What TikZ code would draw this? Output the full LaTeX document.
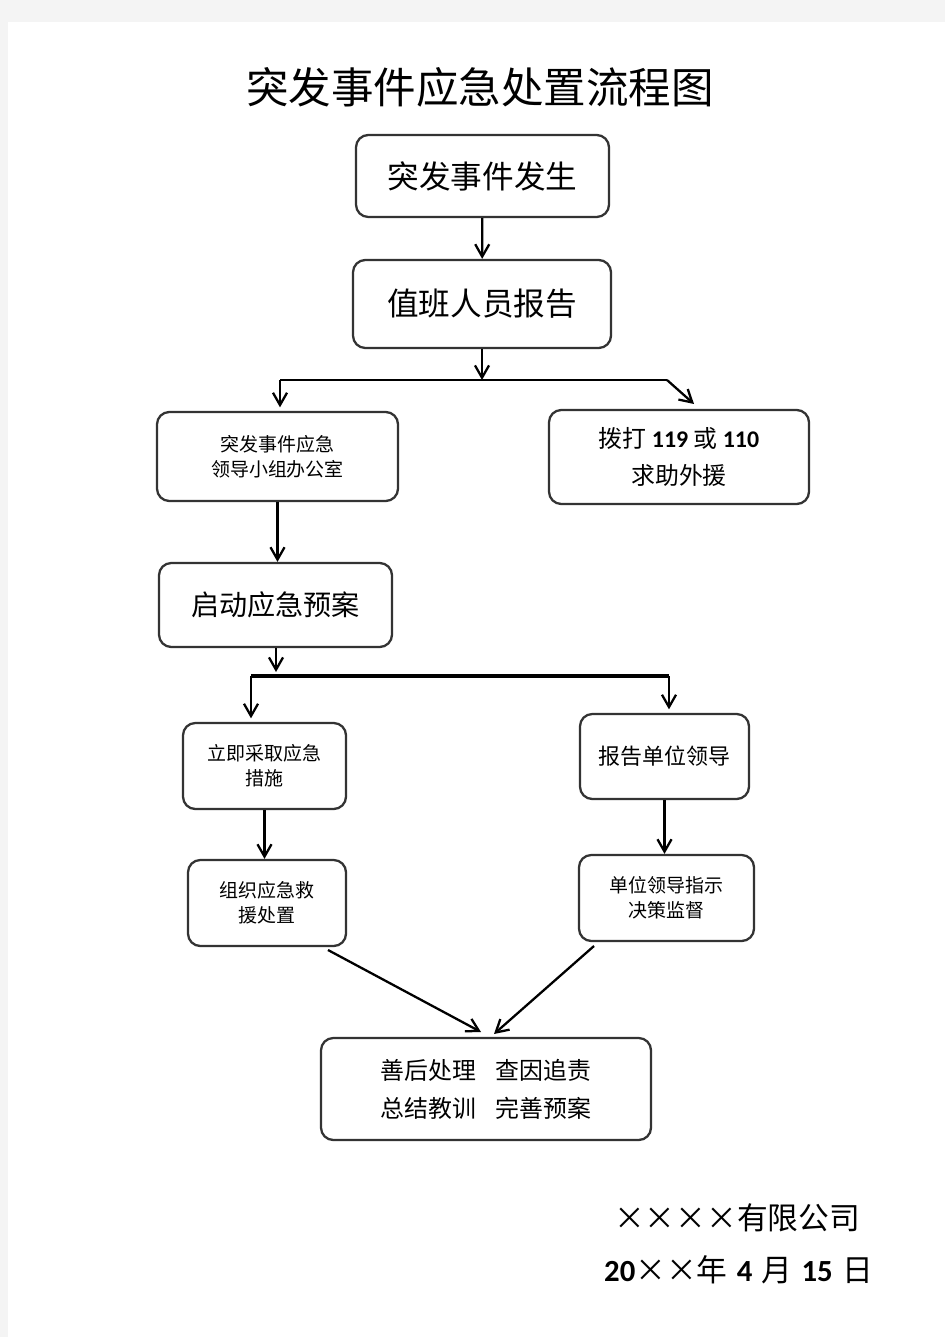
\documentclass[tikz,border=0pt]{standalone}
\usepackage{fontspec}
\setmainfont{Noto Sans CJK SC}
\newfontfamily\numfont{Carlito}
\usetikzlibrary{arrows.meta}
\definecolor{pagegray}{HTML}{F4F4F4}
\definecolor{boxline}{HTML}{333333}
\newcommand{\xx}{\makebox[1em]{×}}
\newcommand{\nb}[1]{{\numfont\bfseries #1}}
\tikzset{
  box/.style 2 args={draw=boxline, line width=1.3pt, rounded corners=7pt,
    align=center, inner sep=0pt,
    minimum width=#1*0.02cm, minimum height=#2*0.02cm},
  big/.style={font=\fontsize{18}{22}\selectfont},
  mid/.style={font=\fontsize{13.6}{21.5}\selectfont},
  small/.style={font=\fontsize{10.8}{14.2}\selectfont},
  flow/.style={line width=1.3pt, -{Straight Barb[length=7pt,width=8pt,line width=1.3pt]}}
}
\begin{document}
\begin{tikzpicture}[x=0.02cm,y=-0.02cm]
  \fill[pagegray] (0,0) rectangle (945,1337);
  \fill[white] (8,22) rectangle (945,1337);
  \useasboundingbox (0,0) rectangle (945,1337);
  % title
  \node[font=\fontsize{24.2}{30}\selectfont] (title) at (480,87) {突发事件应急处置流程图};
  % boxes
  \node[box={253}{82}, big] (occur) at (482.5,176) {突发事件发生};
  \node[box={258}{88}, big] (duty) at (482,304) {值班人员报告};
  \node[box={241}{89}, small] (office) at (277.5,456.5) {突发事件应急\\领导小组办公室};
  \node[box={260}{94}, mid] (call) at (679,457) {拨打 \nb{119} 或 \nb{110}\\求助外援};
  \node[box={233}{84}, font=\fontsize{16}{20}\selectfont] (plan) at (275.5,605) {启动应急预案};
  \node[box={163}{86}, small] (measure) at (264.5,766) {立即采取应急\\措施};
  \node[box={169}{85}, font=\fontsize{12.5}{16}\selectfont] (leader) at (664.5,756.5) {报告单位领导};
  \node[box={158}{86}, small] (rescue) at (267,903) {组织应急救\\援处置};
  \node[box={175}{86}, small] (decide) at (666.5,898) {单位领导指示\\决策监督};
  \node[box={330}{102}, mid] (after) at (486,1089) {善后处理\hspace{0.8em}查因追责\\总结教训\hspace{0.8em}完善预案};
  % signature
  \node[anchor=west, font=\fontsize{17.5}{20}\selectfont] (company) at (608,1218) {\xx\xx\xx\xx 有限公司};
  \node[anchor=west, font=\fontsize{17.5}{20}\selectfont] (date) at (598,1270)
    {\nb{20}\xx\xx 年\hspace{0.3em}\nb{4}\hspace{0.3em}月\hspace{0.3em}\nb{15}\hspace{0.3em}日};
  % branch points
  \coordinate (j1) at (482,380);
  \coordinate (l1) at (280,380);
  \coordinate (r1) at (667,380);
  \coordinate (j2) at (276,672);
  \coordinate (l2) at (251,676);
  \coordinate (r2) at (669,676);
  \coordinate (in1) at (481,1032);
  \coordinate (in2) at (494,1034);
  \begin{scope}[flow]
    \draw (occur) to (duty);
    \draw (duty) to (j1);
    \draw (l1) to ([yshift=2pt]office.north -| l1);
    \draw (r1) to (694,404);
    \draw (office) to (plan.north -| office);
    \draw (plan.south -| j2) to (j2);
    \draw (l2) to ([yshift=2pt]measure.north -| l2);
    \draw (r2) to ([yshift=2pt]leader.north -| r2);
    \draw (measure.south) to (rescue.north -| measure.south);
    \draw (leader.south) to (leader.south |- decide.north);
    \draw (328,950) to (in1);
    \draw (594,946) to (in2);
  \end{scope}
  \begin{scope}[-, line width=1.3pt]
    \draw (l1) -- (r1);
    \draw[line width=1.8pt] (l2) -- (r2);
  \end{scope}
\end{tikzpicture}
\end{document}
